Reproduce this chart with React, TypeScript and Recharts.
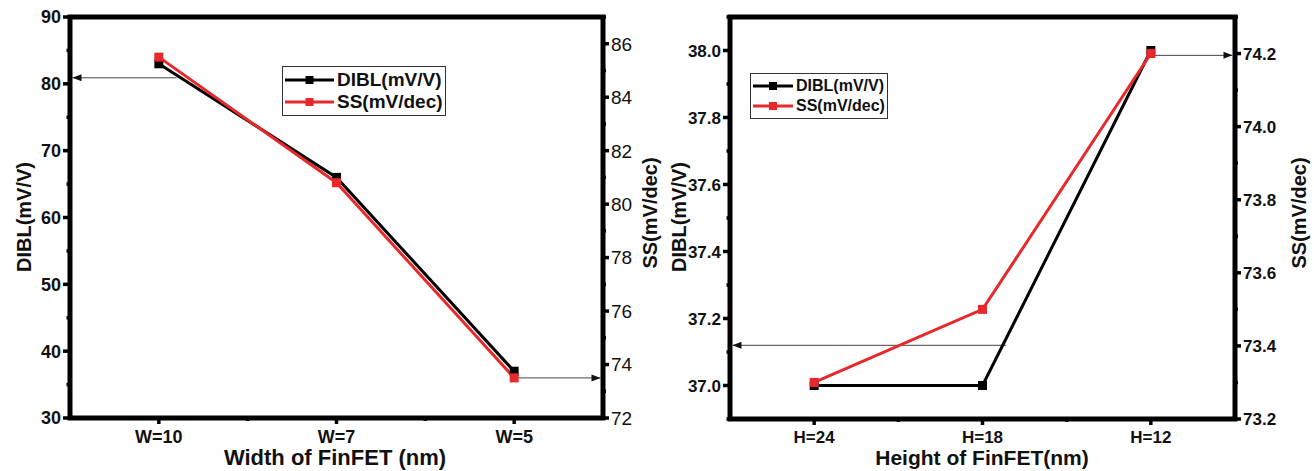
import React from 'react';
import { LineChart, Line, XAxis, YAxis, ReferenceLine, ReferenceArea, Legend } from 'recharts';

const FONT = '"Liberation Sans", Arial, sans-serif';
const RED = '#e8292b';

// width sweep
const widthCats = ['W=10', 'W=7', 'W=5'];
const widthDibl = [83, 66, 37];
const widthSs = [85.5, 80.8, 73.5];

// height sweep
const heightCats = ['H=24', 'H=18', 'H=12'];
const heightDibl = [37.0, 37.0, 38.0];
const heightSs = [73.3, 73.5, 74.2];

const xTicks = [0, 0.5, 1, 1.5, 2];
const xMajor = [0, 1, 2];

const wDiblTicks = [30, 35, 40, 45, 50, 55, 60, 65, 70, 75, 80, 85, 90];
const wDiblMajor = [30, 40, 50, 60, 70, 80, 90];
const wSsTicks = [72, 73, 74, 75, 76, 77, 78, 79, 80, 81, 82, 83, 84, 85, 86, 87];
const wSsMajor = [72, 74, 76, 78, 80, 82, 84, 86];

const hDiblTicks = [36.9, 37.0, 37.1, 37.2, 37.3, 37.4, 37.5, 37.6, 37.7, 37.8, 37.9, 38.0, 38.1];
const hDiblMajor = [37.0, 37.2, 37.4, 37.6, 37.8, 38.0];
const hSsTicks = [73.2, 73.3, 73.4, 73.5, 73.6, 73.7, 73.8, 73.9, 74.0, 74.1, 74.2, 74.3];
const hSsMajor = [73.2, 73.4, 73.6, 73.8, 74.0, 74.2];

// annotation arrows (data coords)
const widthArrows = [
  { x1: 0.1, x2: -0.5, y: 80.9, axis: 'dibl' },
  { x1: 2, x2: 2.5, y: 73.5, axis: 'ss' },
];
const heightArrows = [
  { x1: 1.14, x2: -0.5, y: 37.12, axis: 'dibl' },
  { x1: 2, x2: 2.5, y: 74.195, axis: 'ss' },
];

const widthData = widthCats.map((c, i) => ({ x: i, cat: c, dibl: widthDibl[i], ss: widthSs[i] }));
const heightData = heightCats.map((c, i) => ({ x: i, cat: c, dibl: heightDibl[i], ss: heightSs[i] }));

type TickOpts = {
  side: 'left' | 'right' | 'bottom' | 'top';
  major: number[];
  label?: (v: number) => string;
  len: number;
  minorLen: number;
  inward?: boolean;
  fontSize?: number;
  bold?: boolean;
  gap?: number;
};

const makeTick = (o: TickOpts) => (props: any) => {
  const { x, y, payload } = props;
  const v = payload.value;
  const isMajor = o.major.some((m) => Math.abs(m - v) < 1e-6);
  const len = isMajor ? o.len : o.minorLen;
  const d = o.inward ? -1 : 1;
  const gap = o.gap ?? 4;
  const tp = {
    fontFamily: FONT,
    fontSize: o.fontSize ?? 17,
    fontWeight: o.bold === false ? 400 : 700,
    fill: '#111',
  };
  const lbl = isMajor && o.label ? o.label(v) : '';
  let ln = { x1: x, y1: y, x2: x, y2: y };
  let text: any = null;
  if (o.side === 'left') {
    ln = { x1: x, y1: y, x2: x - d * len, y2: y };
    if (lbl) text = <text x={x - o.len - gap} y={y} dy="0.36em" textAnchor="end" {...tp}>{lbl}</text>;
  } else if (o.side === 'right') {
    ln = { x1: x, y1: y, x2: x + d * len, y2: y };
    if (lbl) text = <text x={x + o.len + gap} y={y} dy="0.36em" textAnchor="start" {...tp}>{lbl}</text>;
  } else if (o.side === 'bottom') {
    ln = { x1: x, y1: y, x2: x, y2: y + d * len };
    if (lbl) text = <text x={x} y={y + o.len + gap} dy="0.72em" textAnchor="middle" {...tp}>{lbl}</text>;
  } else {
    ln = { x1: x, y1: y, x2: x, y2: y - d * len };
  }
  return (
    <g>
      <line {...ln} style={{ stroke: '#000', strokeWidth: 3.5 }} />
      {text}
    </g>
  );
};

const squareDot = (color: string) => (p: any) => (
  <rect key={`d-${p.index}-${color}`} x={p.cx - 4.5} y={p.cy - 4.5} width={9} height={9} fill={color} />
);

const arrowShape = (p: any) => {
  const { x1, y1, x2, y2 } = p;
  const dir = x2 > x1 ? 1 : -1;
  const tip = x2 - dir * 2.5;
  return (
    <g>
      <line x1={x1} y1={y1} x2={tip} y2={y2} style={{ stroke: '#444', strokeWidth: 1 }} />
      <polygon points={`${tip},${y2} ${tip - dir * 9},${y2 - 3.5} ${tip - dir * 9},${y2 + 3.5}`} fill="#111" />
    </g>
  );
};

// frame around the plot area, drawn through the axis scales
const frameShape = (p: any) => (
  <rect
    x={p.x}
    y={p.y}
    width={p.width}
    height={p.height}
    style={{ fill: 'none', stroke: '#000', strokeWidth: 5 }}
  />
);

const makeLegend = (o: { w: number; fs: number; lineW: number; rowH: number }) => (props: any) => {
  const items = props.payload || [];
  return (
    <div
      style={{
        width: o.w,
        border: '1px solid #333',
        background: '#fff',
        padding: '2px 0',
        boxSizing: 'border-box',
        fontFamily: FONT,
        fontWeight: 700,
        fontSize: o.fs,
        lineHeight: `${o.rowH}px`,
        color: '#111',
      }}
    >
      {items.map((it: any) => (
        <div key={it.value} style={{ display: 'flex', alignItems: 'center', height: o.rowH }}>
          <svg width={o.lineW + 4} height={12} style={{ flex: 'none' }}>
            <line x1={2} y1={6} x2={o.lineW + 2} y2={6} stroke={it.color} strokeWidth={3} />
            <rect x={o.lineW / 2 + 2 - 4} y={2} width={8} height={8} fill={it.color} />
          </svg>
          <span style={{ marginLeft: 1, whiteSpace: 'nowrap' }}>{it.value}</span>
        </div>
      ))}
    </div>
  );
};

const Panel = (p: {
  data: any[];
  cats: string[];
  width: number;
  leftW: number;
  rightW: number;
  xH: number;
  diblDomain: [number, number];
  diblTicks: number[];
  diblMajor: number[];
  diblFmt: (v: number) => string;
  ssDomain: [number, number];
  ssTicks: number[];
  ssMajor: number[];
  ssFmt: (v: number) => string;
  ssBold: boolean;
  fs: number;
  topTicks: boolean;
  arrows: { x1: number; x2: number; y: number; axis: string }[];
  legendPos: { left: number; top: number };
  legend: { w: number; fs: number; lineW: number; rowH: number };
}) => (
  <LineChart
    width={p.width}
    height={471}
    data={p.data}
    margin={{ top: 17, right: 0, bottom: 0, left: 0 }}
  >
    <XAxis
      xAxisId="b"
      type="number"
      dataKey="x"
      domain={[-0.5, 2.5]}
      ticks={xTicks}
      interval={0}
      height={p.xH}
      tickSize={0}
      tickMargin={0}
      tickLine={false}
      axisLine={false}
      allowDataOverflow
      tick={makeTick({ side: 'bottom', major: xMajor, label: (v) => p.cats[v], len: 6, minorLen: 3, gap: 6, fontSize: p.fs })}
    />
    <XAxis
      xAxisId="t"
      orientation="top"
      type="number"
      dataKey="x"
      domain={[-0.5, 2.5]}
      ticks={p.topTicks ? xTicks : []}
      interval={0}
      height={0}
      tickSize={0}
      tickMargin={0}
      tickLine={false}
      axisLine={false}
      allowDataOverflow
      tick={p.topTicks ? makeTick({ side: 'top', major: xMajor, len: 7, minorLen: 3.5, inward: true }) : false}
    />
    <YAxis
      yAxisId="dibl"
      orientation="left"
      width={p.leftW}
      domain={p.diblDomain}
      ticks={p.diblTicks}
      interval={0}
      tickSize={0}
      tickMargin={0}
      tickLine={false}
      axisLine={false}
      allowDataOverflow
      tick={makeTick({ side: 'left', major: p.diblMajor, label: p.diblFmt, len: 7, minorLen: 3.5, gap: 2, fontSize: p.fs })}
    />
    <YAxis
      yAxisId="ss"
      orientation="right"
      width={p.rightW}
      domain={p.ssDomain}
      ticks={p.ssTicks}
      interval={0}
      tickSize={0}
      tickMargin={0}
      tickLine={false}
      axisLine={false}
      allowDataOverflow
      tick={makeTick({ side: 'right', major: p.ssMajor, label: p.ssFmt, len: 6, minorLen: 3, gap: 2, fontSize: p.fs + (p.ssBold ? 0 : 1), bold: p.ssBold })}
    />
    <ReferenceArea
      xAxisId="b"
      yAxisId="dibl"
      x1={-0.5}
      x2={2.5}
      y1={p.diblDomain[0]}
      y2={p.diblDomain[1]}
      ifOverflow="visible"
      shape={frameShape}
    />
    {p.arrows.map((a, i) => (
      <ReferenceLine
        key={i}
        xAxisId="b"
        yAxisId={a.axis}
        segment={[{ x: a.x1, y: a.y }, { x: a.x2, y: a.y }]}
        ifOverflow="visible"
        shape={arrowShape}
      />
    ))}
    <Line
      xAxisId="b"
      yAxisId="dibl"
      dataKey="dibl"
      name="DIBL(mV/V)"
      stroke="#000"
      strokeWidth={3}
      dot={squareDot('#000')}
      activeDot={false}
      isAnimationActive={false}
    />
    <Line
      xAxisId="b"
      yAxisId="ss"
      dataKey="ss"
      name="SS(mV/dec)"
      stroke={RED}
      strokeWidth={3}
      dot={squareDot(RED)}
      activeDot={false}
      isAnimationActive={false}
    />
    <Legend
      layout="vertical"
      align="center"
      verticalAlign="middle"
      content={makeLegend(p.legend)}
      wrapperStyle={{ left: p.legendPos.left, top: p.legendPos.top, width: p.legend.w }}
    />
  </LineChart>
);

const tStyle = { fontFamily: FONT, fontWeight: 700, fill: '#111' } as const;

export default function App() {
  return (
    <div style={{ position: 'absolute', left: 0, top: 0, width: 1314, height: 471, background: '#fff', overflow: 'hidden' }}>
      <div style={{ position: 'absolute', left: 0, top: 0 }}>
        <Panel
          data={widthData}
          cats={widthCats}
          width={660}
          leftW={70}
          rightW={57}
          xH={53}
          diblDomain={[30, 90]}
          diblTicks={wDiblTicks}
          diblMajor={wDiblMajor}
          diblFmt={(v) => String(v)}
          ssDomain={[72, 87]}
          ssTicks={wSsTicks}
          ssMajor={wSsMajor}
          ssFmt={(v) => String(v)}
          ssBold={false}
          fs={18}
          topTicks={false}
          arrows={widthArrows}
          legendPos={{ left: 282, top: 66 }}
          legend={{ w: 164, fs: 19, lineW: 49, rowH: 22 }}
        />
      </div>
      <div style={{ position: 'absolute', left: 660, top: 0 }}>
        <Panel
          data={heightData}
          cats={heightCats}
          width={654}
          leftW={70}
          rightW={79}
          xH={52}
          diblDomain={[36.9, 38.1]}
          diblTicks={hDiblTicks}
          diblMajor={hDiblMajor}
          diblFmt={(v) => v.toFixed(1)}
          ssDomain={[73.2, 74.3]}
          ssTicks={hSsTicks}
          ssMajor={hSsMajor}
          ssFmt={(v) => v.toFixed(1)}
          ssBold={true}
          fs={17}
          topTicks={true}
          arrows={heightArrows}
          legendPos={{ left: 90, top: 73 }}
          legend={{ w: 138, fs: 16, lineW: 40, rowH: 20 }}
        />
      </div>
      <svg width={1314} height={471} style={{ position: 'absolute', left: 0, top: 0, pointerEvents: 'none' }}>
        <text x={335} y={465} textAnchor="middle" fontSize={22} {...tStyle}>Width of FinFET (nm)</text>
        <text x={982} y={465} textAnchor="middle" fontSize={21} {...tStyle}>Height of FinFET(nm)</text>
        <text transform="translate(31,217) rotate(-90)" textAnchor="middle" fontSize={20} {...tStyle}>DIBL(mV/V)</text>
        <text transform="translate(657,213) rotate(-90)" textAnchor="middle" fontSize={20} {...tStyle}>SS(mV/dec)</text>
        <text transform="translate(686,217) rotate(-90)" textAnchor="middle" fontSize={20} {...tStyle}>DIBL(mV/V)</text>
        <text transform="translate(1306,213) rotate(-90)" textAnchor="middle" fontSize={20} {...tStyle}>SS(mV/dec)</text>
      </svg>
    </div>
  );
}
